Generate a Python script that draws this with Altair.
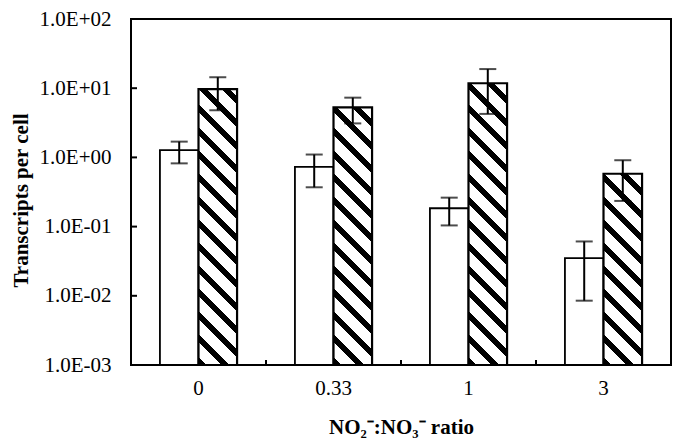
import json
import math
import altair as alt
import pandas as pd

# ---- data ----
categories = ["0", "0.33", "1", "3"]
series = ["Series 1", "Series 2"]
s1_values = [1.27, 0.73, 0.184, 0.035]
s1_low = [0.82, 0.37, 0.104, 0.0085]
s1_high = [1.69, 1.10, 0.262, 0.061]
s2_values = [9.7, 5.3, 11.8, 0.58]
s2_low = [4.8, 3.1, 4.25, 0.235]
s2_high = [14.4, 7.3, 18.9, 0.91]
y_tick_values = [1e-3, 1e-2, 1e-1, 1e0, 1e1, 1e2]
y_tick_labels = ["1.0E-03", "1.0E-02", "1.0E-01", "1.0E+00", "1.0E+01", "1.0E+02"]

# ---- layout / style ----
W, H = 540, 346
FONT = "Liberation Serif"
FS = 21
OUTER = 0.75            # xOffset outer padding (in steps)
STRIPE_PERIOD = 23      # vertical period of hatch stripes (px)
STRIPE_BLACK = 8        # vertical thickness of black stripe (px)

rows = []
for i, c in enumerate(categories):
    rows.append(dict(cat=c, series=series[0], value=s1_values[i], lo=s1_low[i], hi=s1_high[i]))
    rows.append(dict(cat=c, series=series[1], value=s2_values[i], lo=s2_low[i], hi=s2_high[i]))
df = pd.DataFrame(rows)

x_scale = alt.Scale(domain=categories, paddingInner=0, paddingOuter=0)
xo_scale = alt.Scale(domain=series, paddingInner=0, paddingOuter=OUTER)
y_min, y_max = y_tick_values[0], y_tick_values[-1]
y_scale = alt.Scale(type="log", domain=[y_min, y_max], nice=False)

x_axis = alt.Axis(
    title="NO₂⁻:NO₃⁻ ratio", labelAngle=0, labelFont=FONT, labelFontSize=FS,
    labelColor="black", labelPadding=12, ticks=False, tickSize=0, domain=False,
    grid=False, titleFont=FONT, titleFontSize=FS, titleFontWeight="bold",
    titleColor="black", titleY=62, titleBaseline="middle",
)
label_expr = f"{json.dumps(y_tick_labels)}[round(log(datum.value)/LN10) + 3]"
y_axis = alt.Axis(
    title="Transcripts per cell", values=y_tick_values, labelExpr=label_expr,
    labelFont=FONT, labelFontSize=FS, labelColor="black", labelPadding=20,
    labelOverlap=False, ticks=False, tickSize=0, domain=False, grid=False,
    titleFont=FONT, titleFontSize=FS, titleFontWeight="bold", titleColor="black",
    titleX=-110, titleY=181, titleBaseline="middle",
)

x_enc = alt.X("cat:N", scale=x_scale, axis=x_axis)
xo_enc = alt.XOffset("series:N", scale=xo_scale)


def hatch_fill(value):
    bw = W / len(categories) / (len(series) + 2 * OUTER)
    bh = (math.log10(value) - math.log10(y_min)) / (math.log10(y_max) - math.log10(y_min)) * H
    L = bw + bh
    a = L / (bw * bw + bh * bh)
    stops = []
    s = 0.0
    while s < L:
        o1 = s / L
        o2 = min((s + STRIPE_BLACK) / L, 1.0)
        stops += [
            {"offset": o1, "color": "white"},
            {"offset": o1, "color": "black"},
            {"offset": o2, "color": "black"},
            {"offset": o2, "color": "white"},
        ]
        s += STRIPE_PERIOD
    return {"gradient": "linear", "x1": 0, "y1": 1, "x2": a * bw, "y2": 1 - a * bh, "stops": stops}


base = alt.Chart(df)

white_bars = base.transform_filter(alt.datum.series == series[0]).mark_bar(
    fill="white", stroke="black", strokeWidth=1.8
).encode(
    x=x_enc, xOffset=xo_enc,
    y=alt.Y("value:Q", scale=y_scale, axis=y_axis), y2=alt.datum(y_min),
)

hatched_layers = []
for i, c in enumerate(categories):
    hatched_layers.append(
        base.transform_filter((alt.datum.series == series[1]) & (alt.datum.cat == c)).mark_bar(
            fill=hatch_fill(s2_values[i]), stroke="black", strokeWidth=2.2
        ).encode(
            x=x_enc, xOffset=xo_enc,
            y=alt.Y("value:Q", scale=y_scale, axis=y_axis), y2=alt.datum(y_min),
        )
    )

err_rule = base.mark_rule(color="black", strokeWidth=2).encode(
    x=x_enc, xOffset=xo_enc,
    y=alt.Y("lo:Q", scale=y_scale, axis=y_axis), y2="hi:Q",
)
cap_lo = base.mark_tick(color="black", thickness=2, size=17, orient="horizontal").encode(
    x=x_enc, xOffset=xo_enc, y=alt.Y("lo:Q", scale=y_scale, axis=y_axis),
)
cap_hi = base.mark_tick(color="black", thickness=2, size=17, orient="horizontal").encode(
    x=x_enc, xOffset=xo_enc, y=alt.Y("hi:Q", scale=y_scale, axis=y_axis),
)

ytick_df = pd.DataFrame({"v": y_tick_values[1:-1]})
y_ticks = alt.Chart(ytick_df).mark_rule(color="black", strokeWidth=2).encode(
    y=alt.Y("v:Q", scale=y_scale, axis=y_axis), x=alt.value(0), x2=alt.value(6),
)
xtick_df = pd.DataFrame({"cat": categories})
x_ticks = alt.Chart(xtick_df).mark_rule(color="black", strokeWidth=2).encode(
    x=alt.X("cat:N", bandPosition=0, scale=x_scale, axis=x_axis),
    y=alt.value(H - 5), y2=alt.value(H),
)

chart = alt.layer(
    white_bars, *hatched_layers, err_rule, cap_lo, cap_hi, y_ticks, x_ticks
).properties(
    width=W, height=H,
    autosize=alt.AutoSizeParams(type="none"),
    padding={"left": 123, "top": 11, "right": 1, "bottom": 75},
    background="white",
).configure_view(stroke="black", strokeWidth=2)

chart.save("out.html", embed_options={"renderer": "svg", "actions": False})
